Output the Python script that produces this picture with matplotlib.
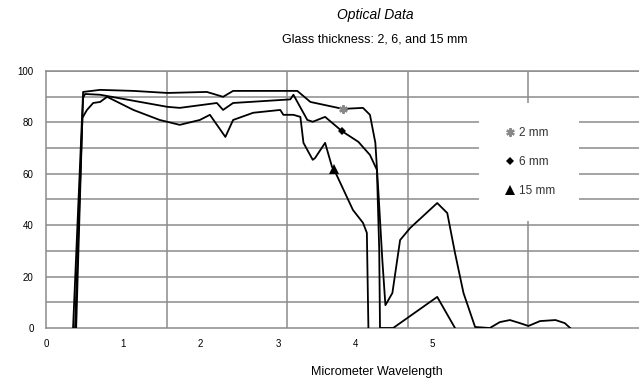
import matplotlib.pyplot as plt
from matplotlib.lines import Line2D

plt.rcParams['font.family'] = ['Liberation Sans', 'DejaVu Sans']

# wavelength (micrometer) / transmission (%)
x_2mm = [0.35, 0.48, 0.70, 1.13, 1.57, 2.08, 2.29, 2.42, 3.25, 3.42, 3.84, 4.10, 4.19, 4.26,
         4.30, 4.35, 4.39, 4.48, 4.58, 4.71, 5.06, 5.19, 5.29, 5.40, 5.55, 5.74, 5.87, 6.00,
         6.13, 6.24, 6.39, 6.59, 6.71, 6.78]
y_2mm = [0, 91.8, 92.6, 92.2, 91.4, 91.8, 89.9, 92.2, 92.2, 87.9, 85.2, 85.6, 82.9, 72.0,
         52.5, 26.5, 8.9, 13.6, 34.2, 38.9, 48.6, 44.7, 29.2, 13.6, 0.4, 0, 2.3, 3.1,
         1.9, 0.8, 2.7, 3.1, 1.9, 0]

x_6mm = [0.375, 0.48, 0.505, 0.70, 1.57, 1.73, 2.21, 2.29, 2.42, 3.16, 3.20, 3.38, 3.45,
         3.61, 3.83, 4.04, 4.19, 4.28, 4.31, 4.32, 4.49, 5.06, 5.29]
y_6mm = [0, 89.5, 91.0, 90.7, 86.0, 85.6, 87.5, 84.8, 87.5, 88.9, 90.7, 80.9, 80.2,
         82.1, 76.5, 72.4, 67.3, 61.5, 30.4, 0, 0, 12.1, 0]

x_15mm = [0.39, 0.47, 0.53, 0.61, 0.70, 0.79, 1.13, 1.47, 1.73, 1.99, 2.12, 2.32, 2.42, 2.68,
          3.03, 3.07, 3.20, 3.29, 3.33, 3.45, 3.48, 3.61, 3.70, 3.72, 3.97, 4.10, 4.15, 4.17]
y_15mm = [0, 81.7, 84.8, 87.5, 87.9, 89.9, 84.8, 80.9, 79.0, 80.9, 82.9, 74.3, 80.9, 83.7,
          84.8, 82.9, 82.9, 82.1, 72.0, 65.4, 66.1, 72.0, 62.6, 62.0, 45.9, 40.9, 37.0, 0]

labels = ['2 mm', '6 mm', '15 mm']
mark_idx = [10, 14, 23]

xticks = [0, 1, 2, 3, 4, 5]
vgrid = [1.565, 3.118, 4.683, 6.235]

fig = plt.figure(figsize=(6.39, 3.85), dpi=100)
ax = fig.add_axes([0.072, 0.148, 0.928, 0.668])

gc = '#8c8c8c'
for v in range(10, 101, 10):
    ax.axhline(v, color=gc, lw=1.1, zorder=1)
for v in vgrid:
    ax.axvline(v, color=gc, lw=1.1, zorder=1)

styles = [dict(marker=(6, 2, 0), color='#888888', ms=6, mew=1.6),
          dict(marker='D', color='black', ms=4.5, mew=0),
          dict(marker='^', color='black', ms=6.5, mew=0)]

for xs, ys, i, st in zip([x_2mm, x_6mm, x_15mm], [y_2mm, y_6mm, y_15mm], mark_idx, styles):
    ax.plot(xs, ys, color='black', lw=1.3, zorder=3)
    ax.plot([xs[i]], [ys[i]], ls='none', marker=st['marker'], color=st['color'],
            ms=st['ms'], mew=st['mew'], zorder=4)

handles = [Line2D([], [], ls='none', marker=st['marker'], color=st['color'],
                  ms=st['ms'], mew=st['mew']) for st in styles]
leg = ax.legend(handles, labels, loc='center', bbox_to_anchor=(0.815, 0.646),
                frameon=True, fancybox=False, framealpha=1, edgecolor='none',
                facecolor='white', fontsize=8.5, handletextpad=0.2, handlelength=1.2,
                borderpad=2.0, labelspacing=1.45, borderaxespad=0)
for t in leg.get_texts():
    t.set_color('#333333')

ax.set_xlim(0, 7.67)
ax.set_ylim(0, 100)
ax.set_xticks(xticks)
ax.set_yticks([0, 20, 40, 60, 80, 100])
ax.tick_params(length=0, labelsize=7, pad=8)
ax.tick_params(axis='y', pad=9)
ax.spines['right'].set_visible(False)
for s in ['left', 'bottom', 'top']:
    ax.spines[s].set_color(gc)
    ax.spines[s].set_linewidth(1.1)

fig.text(375 / 639, 1 - 15 / 385, 'Optical Data', ha='center', va='center',
         fontsize=10, style='italic')
fig.text(375 / 639, 1 - 40 / 385, 'Glass thickness: 2, 6, and 15 mm', ha='center',
         va='center', fontsize=9)
fig.text(377 / 639, 1 - 372 / 385, 'Micrometer Wavelength', ha='center', va='center',
         fontsize=9)

fig.savefig('out.png', dpi=100)
